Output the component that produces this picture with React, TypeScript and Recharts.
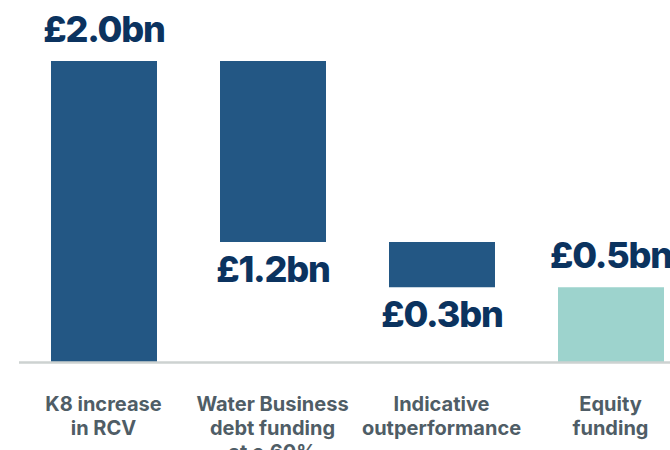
import React from 'react';
import { BarChart, Bar, XAxis, YAxis, Cell, LabelList } from 'recharts';

const categories = ['K8 increase\nin RCV', 'Water Business\ndebt funding\nat c.60%', 'Indicative\noutperformance', 'Equity\nfunding'];
const baseValues = [0, 0.8, 0.5, 0];
const stepValues = [2.0, 1.2, 0.3, 0.5];
const valueLabels = ['£2.0bn', '£1.2bn', '£0.3bn', '£0.5bn'];
const labelSide = ['above', 'below', 'below', 'above'];
const barColors = ['#235784', '#235784', '#235784', '#9dd3cd'];

const data = categories.map((c, i) => ({
  name: c,
  base: baseValues[i],
  value: stepValues[i],
}));

const FONT = 'Inter, "Noto Sans", sans-serif';

const ValueLabel = (props: any) => {
  const { x, y, width, height, index } = props;
  const cx = x + width / 2;
  const ty = labelSide[index] === 'above' ? y - 19 : y + height + 40;
  return (
    <text x={cx} y={ty} textAnchor="middle" fontFamily={FONT} fontWeight={800} fontSize={36} letterSpacing={-1.2} fill="#0b335f">
      {valueLabels[index]}
    </text>
  );
};

const Tick = (props: any) => {
  const { x, y, payload } = props;
  const lines = String(payload.value).split('\n');
  return (
    <text x={x} y={y + 40} textAnchor="middle" fontFamily={FONT} fontWeight={700} fontSize={20} fill="#4f5d66">
      {lines.map((l, i) => (
        <tspan key={i} x={x} dy={i === 0 ? 0 : 24}>{l}</tspan>
      ))}
    </text>
  );
};

export default function App() {
  return (
    <div style={{ position: 'fixed', left: 0, top: 0, width: 670, height: 450, overflow: 'hidden', background: '#fff' }}>
      <BarChart
        width={695}
        height={450}
        data={data}
        margin={{ top: 61, right: 0, bottom: 0, left: 19 }}
        barSize={106}
      >
        <YAxis hide domain={[0, 2]} />
        <Bar dataKey="base" stackId="a" fill="transparent" isAnimationActive={false} />
        <Bar dataKey="value" stackId="a" isAnimationActive={false}>
          {data.map((d, i) => (
            <Cell key={i} fill={barColors[i]} />
          ))}
          <LabelList dataKey="value" content={<ValueLabel />} />
        </Bar>
        <XAxis
          dataKey="name"
          height={87.5}
          tickLine={false}
          axisLine={{ stroke: '#cdd2d1', strokeWidth: 2.5 }}
          tick={<Tick />}
          interval={0}
        />
      </BarChart>
    </div>
  );
}
